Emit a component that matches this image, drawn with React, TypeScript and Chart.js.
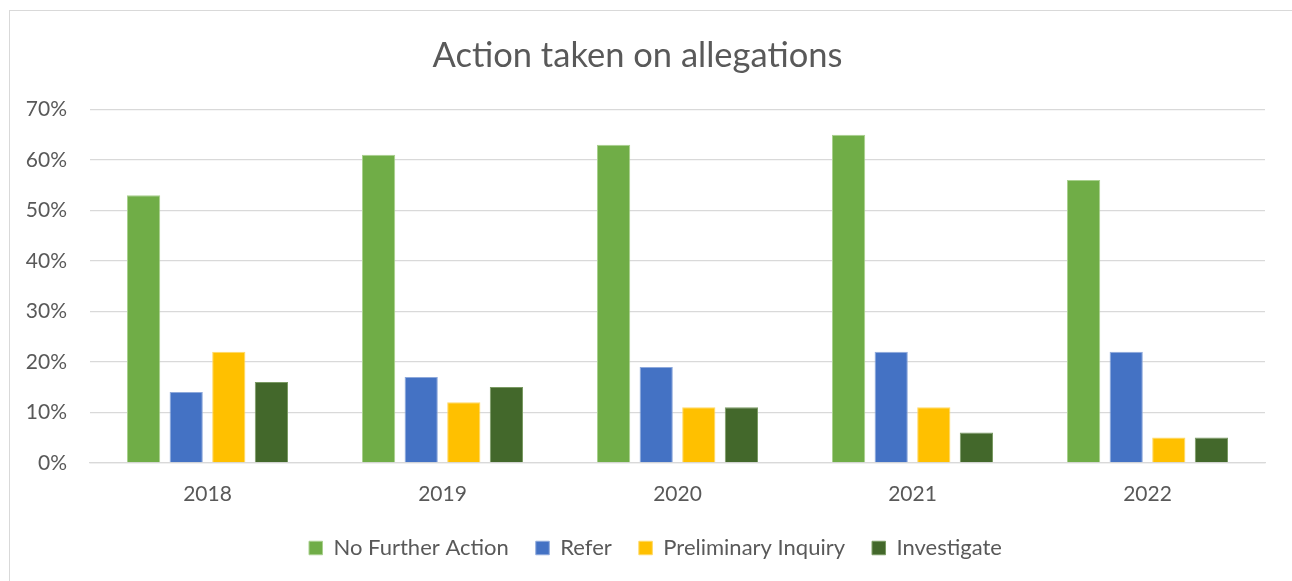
import React, { useEffect, useRef } from "react";
import { Chart, registerables } from "chart.js";

Chart.register(...registerables);

const categories = ["2018", "2019", "2020", "2021", "2022"];
const noFurtherAction = [53, 61, 63, 65, 56];
const refer = [14, 17, 19, 22, 22];
const preliminaryInquiry = [22, 12, 11, 11, 5];
const investigate = [16, 15, 11, 6, 5];
const seriesNames = ["No Further Action", "Refer", "Preliminary Inquiry", "Investigate"];
const seriesColors = ["#70AD47", "#4472C4", "#FFC000", "#43682B"];
const seriesBorders = ["#A9D08E", "#8EA9DB", "#FFD966", "#7A9A63"];
const titleText = "Action taken on allegations";

const FONT = "Lato, 'Open Sans', sans-serif";
const TEXT = "#595959";

const LEGEND_SHRINK = 16;
const LEGEND_DX = 18;

const legendTweak = {
  id: "legendTweak",
  beforeLayout(chart: any) {
    const lg = chart.legend;
    if (lg && !lg._patched) {
      const orig = lg.fit;
      lg.fit = function (this: any) {
        orig.call(this);
        this.height = Math.max(0, this.height - LEGEND_SHRINK);
      };
      lg._patched = true;
    }
  },
  afterLayout(chart: any) {
    const lg = chart.legend;
    if (!lg) return;
    lg.top -= LEGEND_SHRINK;
    lg.height += LEGEND_SHRINK;
    lg.left += LEGEND_DX;
    lg.right += LEGEND_DX;
  },
};

export default function App() {
  const ref = useRef<HTMLCanvasElement | null>(null);
  useEffect(() => {
    if (!ref.current) return;
    const values = [noFurtherAction, refer, preliminaryInquiry, investigate];
    const chart = new Chart(ref.current, {
      type: "bar",
      data: {
        labels: categories,
        datasets: seriesNames.map((name, i) => ({
          label: name,
          data: values[i],
          backgroundColor: seriesColors[i],
          borderColor: seriesBorders[i],
          borderWidth: 1,
          categoryPercentage: 0.725,
          barPercentage: 0.78,
        })),
      },
      plugins: [legendTweak],
      options: {
        responsive: true,
        maintainAspectRatio: false,
        animation: false,
        layout: { padding: { left: 0, right: 27, top: 0, bottom: 12 } },
        plugins: {
          title: {
            display: true,
            text: titleText,
            color: TEXT,
            font: { family: FONT, size: 34.5, weight: "normal" },
            padding: { top: 24, bottom: 33 },
          },
          legend: {
            position: "bottom",
            labels: {
              color: TEXT,
              font: { family: FONT, size: 22 },
              boxWidth: 13.5,
              boxHeight: 13.5,
              padding: 27,
            },
          },
          tooltip: { enabled: false },
        },
        scales: {
          x: {
            grid: { display: false, drawTicks: false },
            border: { display: true, color: "#d9d9d9", width: 1.3 },
            ticks: { color: TEXT, font: { family: FONT, size: 21 }, padding: 19 },
          },
          y: {
            min: 0,
            max: 70,
            afterFit: (s: any) => {
              s.width = 80;
            },
            grid: { color: "#d9d9d9", lineWidth: 1.3, drawTicks: false },
            border: { display: false },
            ticks: {
              stepSize: 10,
              color: TEXT,
              font: { family: FONT, size: 21 },
              padding: 23,
              callback: (v: any) => v + "%",
            },
          },
        },
      },
    });
    return () => chart.destroy();
  }, []);
  return (
    <div
      style={{
        position: "absolute",
        left: 9,
        top: 10,
        width: 1283,
        height: 571,
        borderTop: "1px solid #d9d9d9",
        borderLeft: "1px solid #d9d9d9",
        boxSizing: "border-box",
        overflow: "hidden",
        background: "#fff",
      }}
    >
      <div style={{ position: "relative", width: 1282, height: 570 }}>
        <canvas ref={ref} />
      </div>
    </div>
  );
}
